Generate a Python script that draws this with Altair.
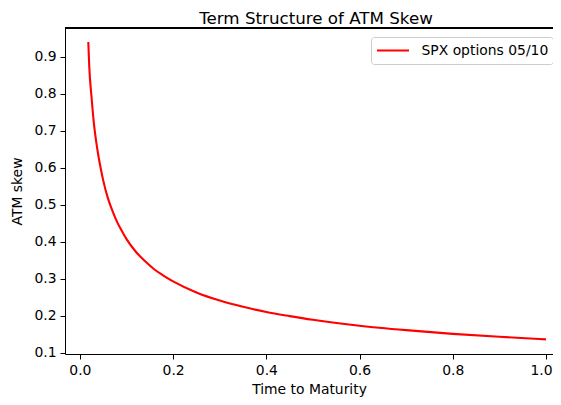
import altair as alt
import pandas as pd

# Values
maturity = [0.018, 0.02, 0.025, 0.03, 0.035, 0.04, 0.045, 0.05, 0.06, 0.07,
            0.08, 0.09, 0.10, 0.12, 0.14, 0.16, 0.18, 0.20, 0.25, 0.30,
            0.35, 0.40, 0.45, 0.50, 0.60, 0.70, 0.80, 0.90, 1.00]
skew = [0.94, 0.875, 0.79, 0.72, 0.67, 0.63, 0.596, 0.566, 0.518, 0.483,
        0.453, 0.429, 0.407, 0.373, 0.347, 0.325, 0.308, 0.293, 0.263, 0.241,
        0.224, 0.21, 0.199, 0.189, 0.173, 0.161, 0.151, 0.143, 0.136]
series_name = "SPX options 05/10"
x_ticks = [0.0, 0.2, 0.4, 0.6, 0.8, 1.0]
y_ticks = [0.1, 0.2, 0.3, 0.4, 0.5, 0.6, 0.7, 0.8, 0.9]

df = pd.DataFrame({"T": maturity, "skew": skew, "series": [series_name] * len(skew)})

FONT = "DejaVu Sans"
W, H = 488, 326

line = alt.Chart(df).mark_line(strokeWidth=2.1, interpolate="monotone").encode(
    x=alt.X("T:Q", title="Time to Maturity",
            scale=alt.Scale(domain=[-0.032, 1.015], nice=False, zero=False),
            axis=alt.Axis(values=x_ticks, format=".1f", titlePadding=6,
                          labelOffset={"condition": {"test": "datum.value >= 1", "value": -5},
                                       "value": 0})),
    y=alt.Y("skew:Q", title="ATM skew",
            scale=alt.Scale(domain=[0.0965, 0.978], nice=False, zero=False),
            axis=alt.Axis(values=y_ticks, format=".1f", titlePadding=9)),
    color=alt.Color("series:N",
                    scale=alt.Scale(domain=[series_name], range=["#ff0000"]),
                    legend=alt.Legend(title=None, orient="none", legendX=306, legendY=9,
                                      symbolType="stroke", symbolSize=1024,
                                      symbolStrokeWidth=2.1, labelFont=FONT,
                                      labelFontSize=13.9, labelColor="black",
                                      labelOffset=11, padding=4.5, clipHeight=18,
                                      strokeColor="#cccccc", cornerRadius=3,
                                      fillColor="white")),
)

top_border = alt.Chart(df).mark_rule(color="black", strokeWidth=1).encode(
    x=alt.value(0), x2=alt.value(W), y=alt.value(0)
)

chart = alt.layer(line, top_border).properties(
    width=W, height=H,
    autosize=alt.AutoSizeParams(type="none"),
    padding={"left": 57, "top": 20, "right": 0, "bottom": 45},
    title=alt.TitleParams("Term Structure of ATM Skew", font=FONT, fontSize=16.7,
                          fontWeight="normal", color="black", offset=0, dx=7),
).configure_view(strokeWidth=0).configure_axis(
    grid=False, domainColor="black", domainWidth=1, tickColor="black", tickWidth=1,
    tickSize=5, labelFont=FONT, labelFontSize=13.9, labelColor="black",
    labelPadding=4, titleFont=FONT, titleFontSize=13.9, titleFontWeight="normal",
    titleColor="black",
)

chart.save("out.html", embed_options={"renderer": "svg", "actions": False})
